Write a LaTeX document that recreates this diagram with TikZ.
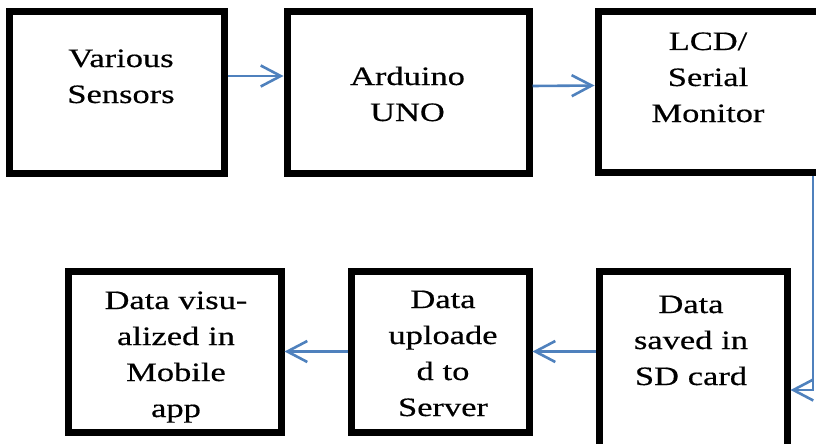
\documentclass[tikz,border=0pt]{standalone}
\usepackage{fontspec}
\setmainfont{Liberation Serif}[FakeStretch=1.3,FakeBold=0.5]
\usetikzlibrary{arrows.meta}
\definecolor{arrblue}{RGB}{79,129,189}
\tikzset{
  blk/.style={draw=black, line width=7pt, rectangle, inner sep=0pt, fill=none},
  txt/.style={font=\fontsize{26.5}{36}\selectfont, text width=260pt, align=center, anchor=base, inner sep=0pt},
  arr/.style={draw=arrblue, line width=2.6pt, -{Straight Barb[length=20pt,width=21pt,line width=2.6pt]}},
}
\begin{document}
\begin{tikzpicture}[x=1pt,y=-1pt]
\useasboundingbox (0,0) rectangle (816,444);
\clip (0,0) rectangle (816,444);
% boxes
\node[blk, minimum width=215pt, minimum height=161pt] (b1) at (116.5,92.5) {};
\node[blk, minimum width=242pt, minimum height=161pt] (b2) at (408,92.5) {};
\node[blk, minimum width=226pt, minimum height=160pt] (b3) at (711,92) {};
\node[blk, minimum width=213pt, minimum height=161pt] (b4) at (174.5,351.5) {};
\node[blk, minimum width=178pt, minimum height=161pt] (b5) at (440,351.5) {};
\node[blk, minimum width=188pt, minimum height=181pt] (b6) at (693,361.5) {};
% texts
\node[txt] (t1) at (121,67) {Various\\Sensors};
\node[txt] (t2) at (407.5,85) {Arduino\\UNO};
\node[txt] (t3) at (708,50) {LCD/\\Serial\\Monitor};
\node[txt] (t4) at (176,309) {Data visu-\\alized in\\Mobile\\app};
\node[txt] (t5) at (443,308) {Data\\uploade\\d to\\Server};
\node[txt] (t6) at (691,313) {Data\\saved in\\SD card};
% connectors
\coordinate (k) at (813,390);
\draw[arr] ([yshift=16.5pt]b1.east) -- ([yshift=16.5pt]b2.west);
\draw[arr] ([yshift=6.5pt]b2.east) -- ([yshift=6.5pt]b3.west);
\draw[arr] (b3.south -| k) -- (k) -- (b6.east |- k);
\draw[arr] (b6.west |- b5.east) -- (b5.east);
\draw[arr] (b5.west) -- (b4.east);
\end{tikzpicture}
\end{document}
